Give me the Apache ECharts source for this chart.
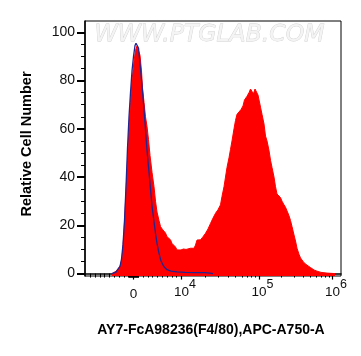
<!DOCTYPE html>
<html><head><meta charset="utf-8">
<script src="https://cdn.jsdelivr.net/npm/echarts@6/dist/echarts.min.js"></script>
<style>html,body{margin:0;padding:0;background:#fff}#c{width:361px;height:356px}</style>
</head><body><div id="c"></div>
<script>
// Histogram bins on a 256-channel biexponential display scale
const redChannel = [27,29,31,33,35,37,39,41,42.5,44,45.5,47,49,50.5,52,53.5,55,56.5,57.5,59,60.5,62,63.5,65,67,69,70.5,72,74,75.5,77.5,79,80.5,82,84,85.5,87,89,90.5,92,94,96,98.5,101,103,105.5,107.5,109,110.5,112,114,115.5,117.5,120.5,123,125.5,128,130.5,133,135.5,137,139,140.5,142,144,145.5,147,149,150.5,152,154,156,158,159.5,162,164,165.5,167,168.5,170,171.5,173,174,175.5,177,179,180.5,182,184,185.5,187,189,190.5,192,194,195.5,197,199,200.5,202,204,205.5,207,209,210.5,212,214,215.5,219,222,225.5,229,232,236,242,250];
const redCount = [0,0.4,1,1.8,3,6,17,34,47,60,71,80,88,92.5,94.3,93.5,90.5,84,77,71,65,61,55.5,49,42,36,30,25.5,22,19.5,18.3,18,16.8,15.3,14.5,14,12.5,11.8,11,9.8,9.7,9.8,10.2,10,10.1,10.5,10.3,10.5,11.8,13.9,14.2,14,15,16.7,18.5,20.8,23,25,26.5,28.5,32,36,40,44,48,51.5,55,60,63.5,66,66.5,68,69.5,72,73.5,75,76.5,75.5,74.5,76.5,76,74,72,69,66,62,57,55,51,47,44,40,36,33,32.5,31.5,30,28.5,27.5,26,24,22,19.5,16,13.5,10.5,8,6.5,4.5,3.5,2.5,1.5,1,0.5,0.2,0];
const blueChannel = [27,29,31,33,35,36.5,38,39.5,41,42.5,44,45.5,47,48.5,50,51,52,53.5,55,57,59,60.5,62,64,65.5,67,69,70.5,72,74,76,79,82,86,92,100,110,120,125,128];
const blueCount = [0,0.2,0.6,1.3,3,6,12,22,36,52,65,75,84,90,94.5,95.5,95,93.5,87,78,68,59.5,51,42,35,28,21.5,16.7,12.5,8.4,5.2,2.8,1.6,1,0.7,0.5,0.4,0.4,0.2,0];

const yTickValues = [0,20,40,60,80,100];
const yMinorValues = [5,10,15,25,30,35,45,50,55,65,70,75,85,90,95];
const xMajorValues = [0,1e4,1e5,1e6];
const xLabelBase = ['0','10','10','10'];
const xLabelExp = ['','4','5','6'];
const xMinorValues = [-9000,-8000,-7000,-6000,-5000,-4000,-3000,-2000,-1000,
  -900,-800,-700,-600,-500,-400,-300,-200,-100,100,200,300,400,500,600,700,800,900,
  1000,2000,3000,4000,5000,6000,7000,8000,9000,
  2e4,3e4,4e4,5e4,6e4,7e4,8e4,9e4,2e5,3e5,4e5,5e5,6e5,7e5,8e5,9e5];

// display transform: value -> channel
function chOf(v){
  if (v <= 1e4) return 48.5 + v / 1e4 * 48;
  if (v <= 1e5) return 96.5 + Math.log10(v / 1e4) * 77.5;
  return 174 + Math.log10(v / 1e5) * 73.5;
}
const xMajorCh = xMajorValues.map(chOf);
const xMinorCh = xMinorValues.map(chOf);

const FONT = 'Liberation Sans';
const chart = echarts.init(document.getElementById('c'), null, {renderer:'canvas'});
chart.setOption({
  animation: false,
  backgroundColor: '#fff',
  grid: {left:85, right:20, top:21, bottom:80, show:true, borderColor:'#000', borderWidth:1, backgroundColor:'transparent'},
  xAxis: [{
    type:'value', min:0, max:256, position:'bottom',
    axisLine:{show:true, lineStyle:{color:'#000', width:1.5}},
    splitLine:{show:false},
    axisTick:{show:true, customValues:xMajorCh, length:6, lineStyle:{color:'#000', width:1.2}},
    axisLabel:{
      customValues:xMajorCh, margin:9, color:'#111', fontFamily:FONT,
      formatter:function(v){
        let i = -1;
        for (let k=0;k<xMajorCh.length;k++) if (Math.abs(xMajorCh[k]-v)<0.01) i=k;
        if (i<0) return '';
        if (!xLabelExp[i]) return '{z|'+xLabelBase[i]+'}';
        return '{p|'+xLabelExp[i]+'}{b|'+xLabelBase[i]+'}{s|'+xLabelExp[i]+'}';
      },
      rich:{
        b:{fontSize:13.5, fontFamily:FONT, color:'#111', verticalAlign:'bottom', lineHeight:14},
        z:{fontSize:13.5, fontFamily:FONT, color:'#111', lineHeight:14, padding:[5,0,0,0]},
        s:{fontSize:12.5, fontFamily:FONT, color:'#111', verticalAlign:'bottom', lineHeight:13, padding:[0,0,8,0]},
        p:{fontSize:12.5, fontFamily:FONT, color:'rgba(0,0,0,0)', verticalAlign:'bottom', lineHeight:13, padding:[0,0,8,0]}
      }
    }
  },{
    type:'value', min:0, max:256, position:'bottom',
    axisLine:{show:false}, splitLine:{show:false}, axisLabel:{show:false},
    axisTick:{show:true, customValues:xMinorCh, length:4, lineStyle:{color:'#000', width:1}}
  }],
  yAxis: [{
    type:'value', min:-1, max:104.7, position:'left',
    axisLine:{show:true, lineStyle:{color:'#000', width:1.5}},
    splitLine:{show:false},
    axisTick:{show:true, customValues:yTickValues, length:8, lineStyle:{color:'#000', width:2}},
    axisLabel:{customValues:yTickValues, margin:10, color:'#111', fontFamily:FONT, fontSize:14}
  },{
    type:'value', min:-1, max:104.7, position:'left',
    axisLine:{show:false}, splitLine:{show:false}, axisLabel:{show:false},
    axisTick:{show:true, customValues:yMinorValues, length:4, lineStyle:{color:'#000', width:1}}
  }],
  graphic: [
    {type:'text', x:209.5, y:35, z:1, style:{text:'WWW.PTGLAB.COM', font:'italic 23.5px "DejaVu Sans"', textAlign:'center', textVerticalAlign:'middle', fill:'#f4f4f4', stroke:'#d0d0d0', lineWidth:0.8}},
    {type:'text', x:26.5, y:144, rotation:Math.PI/2, style:{text:'Relative Cell Number', font:'bold 14.5px "Liberation Sans"', textAlign:'center', textVerticalAlign:'middle', fill:'#000'}},
    {type:'text', x:211, y:330, style:{text:'AY7-FcA98236(F4/80),APC-A750-A', font:'bold 14px "Liberation Sans"', textAlign:'center', textVerticalAlign:'middle', fill:'#000'}}
  ],
  series: [{
    type:'line', xAxisIndex:0, yAxisIndex:0, showSymbol:false, smooth:false,
    data: redChannel.map((c,i)=>[c, redCount[i]]),
    lineStyle:{color:'#ff0000', width:1}, itemStyle:{color:'#ff0000'},
    areaStyle:{color:'#ff0000', opacity:1, origin:'start'}, z:2
  },{
    type:'line', xAxisIndex:0, yAxisIndex:0, showSymbol:false, smooth:false,
    data: blueChannel.map((c,i)=>[c, blueCount[i]]),
    lineStyle:{color:'#24248f', width:1.3}, itemStyle:{color:'#24248f'}, z:3
  }]
});
</script></body></html>
